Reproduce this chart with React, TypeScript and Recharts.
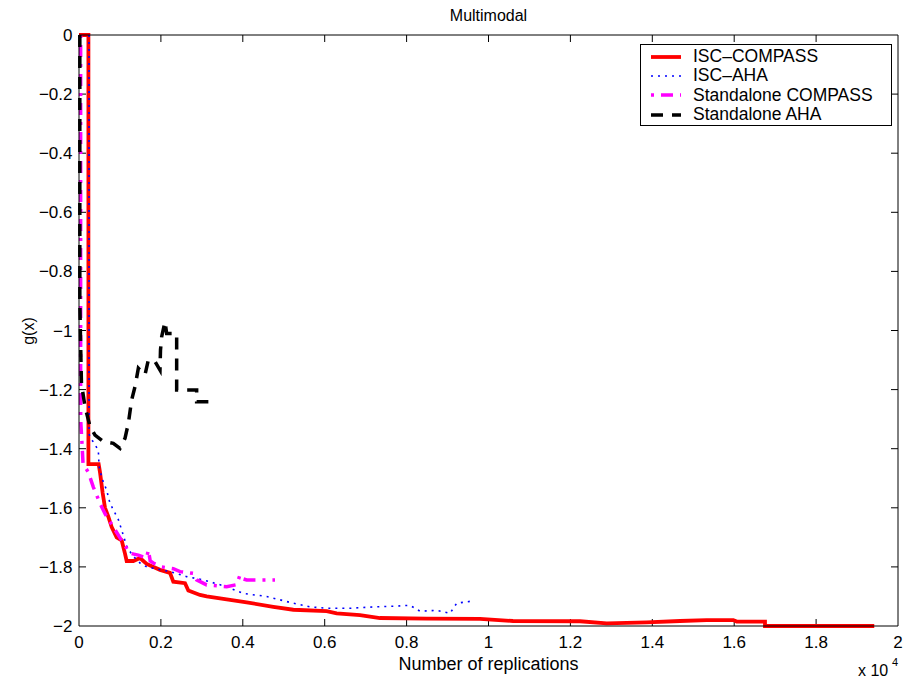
import { LineChart, Line, XAxis, YAxis, Legend, ReferenceLine } from "recharts"

// [replications, g(x)]
const iscCompass = [
  [0, 0], [230, 0], [230, -1.452], [480, -1.452], [513, -1.48], [578, -1.55],
  [635, -1.6], [716, -1.63], [798, -1.665], [920, -1.7], [1042, -1.71],
  [1123, -1.755], [1164, -1.78], [1327, -1.78], [1490, -1.77], [1653, -1.79],
  [1978, -1.81], [2222, -1.82], [2303, -1.85], [2589, -1.855], [2670, -1.88],
  [2955, -1.895], [3118, -1.9], [3607, -1.91], [4095, -1.92], [4745, -1.935],
  [5234, -1.945], [6048, -1.95], [6292, -1.957], [6862, -1.963], [7350, -1.973],
  [8490, -1.975], [9792, -1.976], [10598, -1.983], [12234, -1.984],
  [12886, -1.991], [13862, -1.988], [14676, -1.983], [15327, -1.98],
  [15978, -1.98], [16061, -1.985], [16752, -1.985], [16752, -2], [19420, -2],
]

const iscAha = [
  [245, 0], [245, -1.35], [270, -1.36], [472, -1.405], [490, -1.46], [560, -1.5],
  [675, -1.54], [757, -1.585], [961, -1.64], [1042, -1.675], [1164, -1.73],
  [1300, -1.76], [1490, -1.787], [1653, -1.8], [2222, -1.816], [2629, -1.833],
  [3036, -1.844], [3607, -1.867], [4014, -1.89], [4583, -1.9], [5234, -1.923],
  [5641, -1.935], [6048, -1.94], [6618, -1.94], [7270, -1.935], [7676, -1.933],
  [8083, -1.93], [8327, -1.95], [8734, -1.947], [9060, -1.957], [9223, -1.923],
  [9630, -1.915],
]

const soloCompass = [
  [40, 0], [40, -1.3], [80, -1.4], [98, -1.45], [228, -1.48], [350, -1.53],
  [513, -1.585], [635, -1.62], [838, -1.665], [1083, -1.72], [1245, -1.754],
  [1449, -1.76], [1650, -1.77], [1693, -1.743], [1740, -1.78], [1815, -1.787],
  [2019, -1.8], [2303, -1.806], [2467, -1.816], [2792, -1.822], [2873, -1.844],
  [3118, -1.861], [3607, -1.867], [3850, -1.86], [3932, -1.827], [4000, -1.84],
  [4095, -1.844], [4786, -1.844],
]

const soloAha = [
  [20, 0], [20, -0.9], [40, -1.05], [60, -1.18], [147, -1.258], [269, -1.325],
  [391, -1.354], [594, -1.376], [838, -1.382], [1001, -1.399], [1123, -1.365],
  [1205, -1.314], [1286, -1.235], [1368, -1.19], [1449, -1.128], [1530, -1.14],
  [1612, -1.15], [1693, -1.1], [1856, -1.105], [1978, -1.134], [1990, -1.066],
  [2019, -1.021], [2100, -0.97], [2141, -1.01], [2385, -1.01], [2385, -1.201],
  [2873, -1.201], [2873, -1.241], [3240, -1.241],
]

const xTicks = [0, 2000, 4000, 6000, 8000, 10000, 12000, 14000, 16000, 18000, 20000]
const yTicks = [0, -0.2, -0.4, -0.6, -0.8, -1, -1.2, -1.4, -1.6, -1.8, -2]

const series = [
  { name: "ISC\u2013COMPASS", pts: iscCompass, color: "#ff0000", width: 3.8, dash: undefined },
  { name: "ISC\u2013AHA", pts: iscAha, color: "#0000ff", width: 1.6, dash: "2 5" },
  { name: "Standalone COMPASS", pts: soloCompass, color: "#ff00ff", width: 3.5, dash: "3 7 12 7" },
  { name: "Standalone AHA", pts: soloAha, color: "#000000", width: 3.5, dash: "12 9" },
]

const font = "'Liberation Sans', Arial, sans-serif"
const toPts = (a: number[][]) => a.map(([x, y]) => ({ x, y }))
const fmtX = (v: number) => String(Number((v / 10000).toFixed(1)))
const fmtY = (v: number) => {
  const s = String(Number(Math.abs(v).toFixed(1)))
  return v < 0 ? "\u2212" + s : s
}

// inward tick length (7px) in data units: plot is 819 x 591 px
const tx = (20000 * 7) / 819
const ty = (2 * 7) / 591

function LegendBox() {
  return (
    <div style={{ border: "1px solid #000", background: "#fff", width: 250, height: 78, fontFamily: font, fontSize: 17.5, paddingTop: 2, boxSizing: "content-box" }}>
      {series.map((s) => (
        <div key={s.name} style={{ display: "flex", alignItems: "center", height: 19.3, lineHeight: "19px" }}>
          <svg width={52} height={10}>
            <line x1={10} x2={40} y1={5} y2={5} stroke={s.color} strokeWidth={s.width} strokeDasharray={s.dash} />
          </svg>
          <span>{s.name}</span>
        </div>
      ))}
    </div>
  )
}

export default function App() {
  return (
    <div style={{ position: "absolute", left: 0, top: 0, background: "#fff", fontFamily: font }}>
      <LineChart width={906} height={683} margin={{ top: 35, right: 8, bottom: 27, left: 19 }}>
        <XAxis
          xAxisId="b" dataKey="x" type="number" domain={[0, 20000]} ticks={xTicks}
          tickFormatter={fmtX} height={30} tickSize={0} tickMargin={10} tickLine={false}
          stroke="#000" tick={{ fill: "#000", fontSize: 17 }}
          label={{
            content: (p: any) => {
              const vb = p.viewBox
              return (
                <g fontFamily={font} fill="#000">
                  <text x={vb.x + vb.width / 2} y={670} textAnchor="middle" fontSize={18}>Number of replications</text>
                  <text x={858} y={676} fontSize={16}>x 10</text>
                  <text x={892} y={666} fontSize={11}>4</text>
                </g>
              )
            },
          }}
        />
        <YAxis
          yAxisId="l" type="number" domain={[-2, 0]} ticks={yTicks} tickFormatter={fmtY}
          width={60} tickSize={0} tickMargin={6.5} tickLine={false} stroke="#000"
          tick={{ fill: "#000", fontSize: 17 }}
          label={{
            content: () => (
              <text x={34} y={331} transform="rotate(-90 34 331)" textAnchor="middle" fontSize={16} fontFamily={font} fill="#000">g(x)</text>
            ),
          }}
        />
        <XAxis
          xAxisId="t" orientation="top" mirror type="number" domain={[0, 20000]} ticks={xTicks}
          height={8} tick={false} tickLine={false} stroke="#000"
          label={{
            content: (p: any) => {
              const vb = p.viewBox
              return <text x={vb.x + vb.width / 2} y={21} textAnchor="middle" fontSize={16} fontFamily={font} fill="#000">Multimodal</text>
            },
          }}
        />
        <YAxis
          yAxisId="r" orientation="right" mirror type="number" domain={[-2, 0]} ticks={yTicks}
          width={8} tick={false} tickLine={false} stroke="#000"
        />
        {/* inward tick marks on all four sides */}
        {xTicks.slice(1, -1).map((t) => (
          <ReferenceLine key={"xb" + t} xAxisId="b" yAxisId="l" stroke="#000" strokeWidth={1}
            segment={[{ x: t, y: -2 }, { x: t, y: -2 + ty }]} />
        ))}
        {xTicks.slice(1, -1).map((t) => (
          <ReferenceLine key={"xt" + t} xAxisId="b" yAxisId="l" stroke="#000" strokeWidth={1}
            segment={[{ x: t, y: 0 }, { x: t, y: -ty }]} />
        ))}
        {yTicks.slice(1, -1).map((t) => (
          <ReferenceLine key={"yl" + t} xAxisId="b" yAxisId="l" stroke="#000" strokeWidth={1}
            segment={[{ x: 0, y: t }, { x: tx, y: t }]} />
        ))}
        {yTicks.slice(1, -1).map((t) => (
          <ReferenceLine key={"yr" + t} xAxisId="b" yAxisId="l" stroke="#000" strokeWidth={1}
            segment={[{ x: 20000 - tx, y: t }, { x: 20000, y: t }]} />
        ))}
        {series.map((s) => (
          <Line
            key={s.name} xAxisId="b" yAxisId="l" data={toPts(s.pts)} dataKey="y" name={s.name}
            type="linear" stroke={s.color} strokeWidth={s.width} strokeDasharray={s.dash}
            dot={false} activeDot={false} isAnimationActive={false}
          />
        ))}
        <Legend
          content={() => <LegendBox />} layout="vertical" align="center" verticalAlign="middle"
          wrapperStyle={{ left: 640, top: 44, width: 252, height: 80 }}
        />
      </LineChart>
    </div>
  )
}
